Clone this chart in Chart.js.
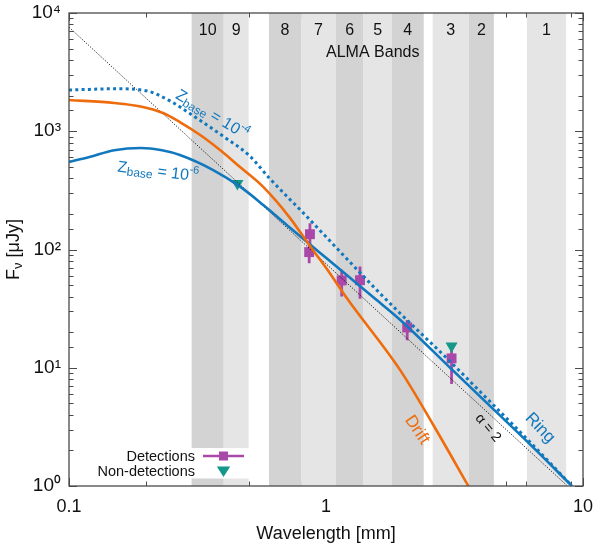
<!DOCTYPE html>
<html>
<head>
<meta charset="utf-8">
<script src="https://cdn.jsdelivr.net/npm/chart.js@4.4.0/dist/chart.umd.min.js"></script>
<style>
html,body{margin:0;padding:0;background:#ffffff;}
#wrap{width:598px;height:548px;}
</style>
</head>
<body>
<div id="wrap"><canvas id="c" width="598" height="548"></canvas></div>
<script>
// ---------------- data ----------------
const xTickLabels = ['0.1', '1', '10'];
const yTickLabels = ['10\u2070', '10\u00B9', '10\u00B2', '10\u00B3', '10\u2074'];

const bandNames = ['10', '9', '8', '7', '6', '5', '4', '3', '2', '1'];
const bandLow  = [0.30, 0.40, 0.60, 0.80, 1.09, 1.40, 1.80, 2.60, 3.60, 6.05];
const bandHigh = [0.40, 0.50, 0.80, 1.09, 1.40, 1.80, 2.40, 3.60, 4.50, 8.60];

// Ring model, z_base = 1e-6 (solid)
const ringWave = [0.1, 0.12, 0.15, 0.19, 0.23, 0.27, 0.364, 0.463, 0.57, 0.724, 0.867, 1.0, 1.528, 1.941, 3.04, 4.0, 6.0, 9.06];
const ringFlux = [550, 605, 690, 721, 690, 630, 470, 340, 238, 153, 110, 85, 39.5, 25.5, 10, 5.65, 2.43, 1];

// Ring model, z_base = 1e-4 (dotted)
const ring4Wave = [0.1, 0.12, 0.15, 0.2, 0.25, 0.3, 0.4, 0.5, 0.6, 0.72, 0.792, 1.0, 1.598, 1.941, 3.04, 4.0, 6.0, 9.06];
const ring4Flux = [2234, 2260, 2290, 2200, 1780, 1380, 900, 630, 405, 268, 218, 128, 44, 28.9, 11.3, 6.2, 2.55, 1];

// Drift model (orange)
const driftWave = [0.1, 0.15, 0.19, 0.232, 0.27, 0.324, 0.387, 0.463, 0.57, 0.724, 0.792, 0.889, 1.0, 1.22, 1.941, 2.616, 3.58];
const driftFlux = [1838, 1734, 1619, 1427, 1197, 930, 694, 498, 338, 185, 141, 99, 70, 37.4, 9.6, 3.28, 1];

// alpha = 2 reference line
const alphaWave = [0.1, 8.7];
const alphaFlux = [7580, 1];

// Detections with error bars
const detWave = [0.866, 0.860, 1.151, 1.356, 2.07, 3.08];
const detFlux = [134.7, 95, 54.7, 55, 21.9, 12.0];
const detLow  = [108, 76.6, 40, 38.3, 17.1, 7.3];
const detHigh = [167, 108, 67.3, 71.8, 25.3, 14.5];

// Non-detections
const ndWave = [0.452, 3.08];
const ndFlux = [361, 15.3];

// text annotations: [wavelength, flux] anchors
const lblZ4 = [0.36, 1372];
const lblZ6 = [0.222, 452];
const lblRing = [6.8, 3.09];
const lblDrift = [2.26, 2.98];
const lblAlpha = [4.27, 3.09];
const bandLabelFlux = 7050;
const almaTitleAt = [1.52, 4590];

// ---------------- styling ----------------
const FONT = '"Liberation Sans", Arial, Helvetica, sans-serif';
const COL = {
  blue: '#1278be', orange: '#ef6c0c', magenta: '#a948a8', teal: '#14988a',
  dark: '#d3d3d3', light: '#e5e5e5', frame: '#4a4a4a', text: '#111111'
};

function pts(xs, ys) { return xs.map((v, i) => ({ x: v, y: ys[i] })); }
function isPow10(v) { const l = Math.log10(v); return Math.abs(l - Math.round(l)) < 1e-6; }

function richText(ctx, parts, cx, cy, angleDeg, color) {
  ctx.save();
  ctx.translate(cx, cy);
  ctx.rotate(angleDeg * Math.PI / 180);
  ctx.fillStyle = color;
  ctx.textAlign = 'left';
  ctx.textBaseline = 'middle';
  let w = 0;
  parts.forEach(p => { ctx.font = p.s + 'px ' + FONT; p.w = ctx.measureText(p.t).width; w += p.w; });
  let xx = -w / 2;
  parts.forEach(p => { ctx.font = p.s + 'px ' + FONT; ctx.fillText(p.t, xx, (p.dy || 0)); xx += p.w; });
  ctx.restore();
}

function noPad(s) { s.paddingLeft = 0; s.paddingRight = 0; s.paddingTop = 0; s.paddingBottom = 0; }

const decor = {
  id: 'decor',
  beforeDatasetsDraw(chart) {
    const { ctx, chartArea: a, scales: { x, y } } = chart;
    ctx.save();
    // inward tick marks on all four sides
    ctx.strokeStyle = COL.frame;
    ctx.lineWidth = 1;
    ctx.beginPath();
    x.ticks.forEach(t => {
      const p = Math.round(x.getPixelForValue(t.value)) + 0.5;
      const L = isPow10(t.value) ? 8 : 4.5;
      ctx.moveTo(p, a.bottom); ctx.lineTo(p, a.bottom - L);
      ctx.moveTo(p, a.top); ctx.lineTo(p, a.top + L);
    });
    y.ticks.forEach(t => {
      const p = Math.round(y.getPixelForValue(t.value)) + 0.5;
      const L = isPow10(t.value) ? 8 : 4.5;
      ctx.moveTo(a.left, p); ctx.lineTo(a.left + L, p);
      ctx.moveTo(a.right, p); ctx.lineTo(a.right - L, p);
    });
    ctx.stroke();
    // ALMA bands
    bandNames.forEach((n, i) => {
      const x0 = x.getPixelForValue(bandLow[i]);
      const x1 = x.getPixelForValue(bandHigh[i]);
      ctx.fillStyle = (parseInt(n, 10) % 2 === 0) ? COL.dark : COL.light;
      ctx.fillRect(x0, a.top, x1 - x0, a.bottom - a.top);
    });
    // legend background box
    ctx.fillStyle = '#ffffff';
    ctx.fillRect(a.left + 18, 448, 255 - (a.left + 18), 30.5);
    // error bars
    ctx.strokeStyle = COL.magenta;
    ctx.lineWidth = 2.8;
    ctx.beginPath();
    detWave.forEach((w, i) => {
      const px = x.getPixelForValue(w);
      ctx.moveTo(px, y.getPixelForValue(detLow[i]));
      ctx.lineTo(px, y.getPixelForValue(detHigh[i]));
    });
    ctx.stroke();
    ctx.restore();
  },
  afterDatasetsDraw(chart) {
    const { ctx, chartArea: a, scales: { x, y } } = chart;
    ctx.save();
    // frame
    ctx.strokeStyle = COL.frame;
    ctx.lineWidth = 1.3;
    ctx.strokeRect(a.left, a.top, a.right - a.left, a.bottom - a.top);

    // band labels
    ctx.fillStyle = COL.text;
    ctx.font = '16px ' + FONT;
    ctx.textAlign = 'center';
    ctx.textBaseline = 'middle';
    const by = y.getPixelForValue(bandLabelFlux);
    bandNames.forEach((n, i) => {
      ctx.fillText(n, x.getPixelForValue(Math.sqrt(bandLow[i] * bandHigh[i])), by);
    });
    ctx.fillText('ALMA Bands', x.getPixelForValue(almaTitleAt[0]), y.getPixelForValue(almaTitleAt[1]));

    // curve labels
    richText(ctx, [
      { t: 'Z', s: 16 }, { t: 'base', s: 12, dy: 4 }, { t: ' = 10', s: 16 }, { t: '-4', s: 11, dy: -6 }
    ], x.getPixelForValue(lblZ4[0]), y.getPixelForValue(lblZ4[1]), 31, COL.blue);
    richText(ctx, [
      { t: 'Z', s: 16 }, { t: 'base', s: 12, dy: 4 }, { t: ' = 10', s: 16 }, { t: '-6', s: 11, dy: -6 }
    ], x.getPixelForValue(lblZ6[0]), y.getPixelForValue(lblZ6[1]), 7, COL.blue);
    richText(ctx, [{ t: 'Ring', s: 17 }], x.getPixelForValue(lblRing[0]), y.getPixelForValue(lblRing[1]), 46, COL.blue);
    richText(ctx, [{ t: 'Drift', s: 17 }], x.getPixelForValue(lblDrift[0]), y.getPixelForValue(lblDrift[1]), 56, COL.orange);
    richText(ctx, [{ t: '\u03B1 = 2', s: 14 }], x.getPixelForValue(lblAlpha[0]), y.getPixelForValue(lblAlpha[1]), 50, COL.text);

    // legend
    ctx.font = '14.5px ' + FONT;
    ctx.textAlign = 'right';
    ctx.textBaseline = 'middle';
    ctx.fillStyle = COL.text;
    ctx.fillText('Detections', 195, 456.5);
    ctx.fillText('Non-detections', 195, 472);
    ctx.strokeStyle = COL.magenta;
    ctx.lineWidth = 2.6;
    ctx.beginPath(); ctx.moveTo(203, 456); ctx.lineTo(244, 456); ctx.stroke();
    ctx.fillStyle = COL.magenta;
    ctx.fillRect(219, 451.5, 9, 9);
    ctx.fillStyle = COL.teal;
    ctx.beginPath(); ctx.moveTo(216.8, 466.5); ctx.lineTo(230.2, 466.5); ctx.lineTo(223.5, 477); ctx.closePath(); ctx.fill();

    // y-axis title
    ctx.save();
    ctx.translate(14, (a.top + a.bottom) / 2);
    ctx.rotate(-Math.PI / 2);
    ctx.fillStyle = COL.text;
    ctx.textBaseline = 'middle';
    ctx.textAlign = 'left';
    const parts = [{ t: 'F', s: 18, dy: 0 }, { t: '\u03BD', s: 13, dy: 4 }, { t: ' [\u03BCJy]', s: 18, dy: 0 }];
    let w = 0;
    parts.forEach(p => { ctx.font = p.s + 'px ' + FONT; p.w = ctx.measureText(p.t).width; w += p.w; });
    let xx = -w / 2;
    parts.forEach(p => { ctx.font = p.s + 'px ' + FONT; ctx.fillText(p.t, xx, p.dy); xx += p.w; });
    ctx.restore();

    ctx.restore();
  }
};

Chart.defaults.font.family = FONT;
Chart.defaults.color = COL.text;

new Chart(document.getElementById('c'), {
  type: 'scatter',
  data: {
    datasets: [
      { label: 'Detections', data: pts(detWave, detFlux), pointStyle: 'rect', pointRadius: 7,
        backgroundColor: COL.magenta, borderColor: COL.magenta, borderWidth: 0, order: 9 },
      { label: 'Non-detections', data: pts(ndWave, ndFlux), pointStyle: 'triangle', rotation: 180, pointRadius: 7,
        backgroundColor: COL.teal, borderColor: COL.teal, borderWidth: 0, order: 8 },
      { label: 'alpha = 2', data: pts(alphaWave, alphaFlux), showLine: true, pointRadius: 0,
        borderColor: '#000000', borderWidth: 1, borderDash: [1, 1.6], order: 5 },
      { label: 'Ring zbase=1e-6', data: pts(ringWave, ringFlux), showLine: true, pointRadius: 0,
        borderColor: COL.blue, borderWidth: 2.6, cubicInterpolationMode: 'monotone', order: 4 },
      { label: 'Drift', data: pts(driftWave, driftFlux), showLine: true, pointRadius: 0,
        borderColor: COL.orange, borderWidth: 2.6, cubicInterpolationMode: 'monotone', order: 3 },
      { label: 'Ring zbase=1e-4', data: pts(ring4Wave, ring4Flux), showLine: true, pointRadius: 0,
        borderColor: COL.blue, borderWidth: 3, borderDash: [3, 3.3], cubicInterpolationMode: 'monotone', order: 2 }
    ]
  },
  options: {
    responsive: false,
    animation: false,
    events: [],
    layout: { padding: { left: 0, right: 15, top: 13, bottom: 0 } },
    plugins: { legend: { display: false }, tooltip: { enabled: false } },
    scales: {
      x: {
        type: 'logarithmic', min: 0.1, max: 10,
        grid: { display: false, drawTicks: false },
        border: { display: false },
        ticks: {
          autoSkip: false, maxRotation: 0, padding: 10,
          font: { size: 18 }, color: COL.text,
          callback: (v) => isPow10(v) ? xTickLabels[Math.round(Math.log10(v)) + 1] : ''
        },
        title: { display: true, text: 'Wavelength [mm]', font: { size: 18 }, color: COL.text, padding: { top: 0, bottom: 3 } },
        afterFit(s) { s.height = 62; noPad(s); }
      },
      y: {
        type: 'logarithmic', min: 1, max: 10000,
        grid: { display: false, drawTicks: false },
        border: { display: false },
        ticks: {
          autoSkip: false, padding: 8,
          font: { size: 19 }, color: COL.text,
          callback: (v) => isPow10(v) ? yTickLabels[Math.round(Math.log10(v))] : ''
        },
        afterFit(s) { s.width = 69; noPad(s); }
      }
    }
  },
  plugins: [decor]
});
</script>
</body>
</html>
